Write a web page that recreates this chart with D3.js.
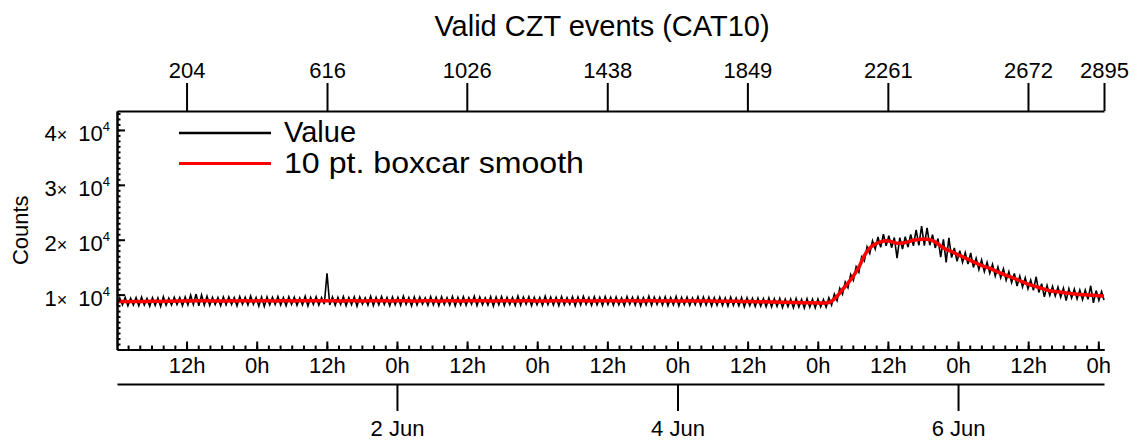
<!DOCTYPE html>
<html>
<head>
<meta charset="utf-8">
<script src="https://cdn.jsdelivr.net/npm/d3@7"></script>
<style>
body { margin: 0; background: #fff; }
svg { font-family: "Liberation Sans", Arial, sans-serif; background: #fff; }
.axis path, .axis line { stroke: #000; stroke-width: 2; }
.axis text { font-size: 22px; fill: #000; font-family: "Liberation Sans", Arial, sans-serif; }
</style>
</head>
<body>
<svg width="1135" height="440"></svg>
<script>

// sampling of the light curve: one bin every 210 s, starting 31 May 00:06 UT
var t0 = Date.UTC(2017, 4, 31, 0, 6, 0);
var cadence = 210;
var lastIndex = 2895;
var valueStep = 8;    // every 8th bin
var smoothStep = 16;  // smoothed curve, every 16th bin

var values = [
  8050, 9400, 8150, 9500, 7950, 9350, 8100, 9450, 8000, 9550, 8100, 9300, 7900, 9450, 8050, 9400, 7850, 9600, 8100, 9350,
  8100, 9500, 8200, 9450, 8000, 9550, 8150, 9900, 8200, 10100, 7950, 9950, 8100, 9700, 8050, 9500, 8200, 9450, 8000, 9550,
  8150, 9600, 8200, 9450, 7950, 9650, 8250, 9500, 8100, 9750, 8200, 9450, 7900, 9550, 7850, 9600, 8150, 9500, 8200, 9650,
  8100, 9450, 8000, 9600, 8200, 9550, 8050, 9400, 8150, 9700, 7950, 9500, 8200, 9600, 8100, 9450, 8250, 13900, 8100, 9550,
  8050, 9500, 8200, 9650, 8000, 9450, 8150, 9600, 7900, 9550, 8250, 9400, 8100, 9700, 8000, 9500, 8150, 9650, 8200, 9450,
  8000, 9550, 8150, 9500, 8050, 9700, 8200, 9450, 7950, 9600, 8100, 9550, 8250, 9400, 8050, 9650, 8150, 9500, 8000, 9600,
  8200, 9450, 8100, 9650, 7950, 9500, 8150, 9600, 8050, 9450, 8250, 9700, 8000, 9550, 8150, 9400, 8100, 9600, 7900, 9550,
  8150, 9650, 8000, 9500, 8200, 9450, 8050, 9750, 8100, 9550, 8250, 9600, 8000, 9500, 8150, 9450, 8050, 9700, 8200, 9550,
  8100, 9500, 8000, 9650, 8150, 9450, 8250, 9600, 7950, 9550, 8100, 9700, 8200, 9450, 8050, 9600, 8150, 9500, 8000, 9650,
  8200, 9500, 8050, 9550, 8150, 9400, 8000, 9650, 8250, 9500, 8100, 9600, 7950, 9450, 8150, 9700, 8050, 9550, 8200, 9500,
  8100, 9600, 8000, 9450, 8150, 9650, 7950, 9500, 8200, 9550, 8050, 9400, 8150, 9600, 8000, 9550, 8100, 9500, 7950, 9450,
  8050, 9500, 8000, 9400, 7900, 9550, 8050, 9350, 7950, 9450, 7800, 9400, 8000, 9300, 7850, 9350, 7900, 9250, 7800, 9400,
  7750, 9250, 7850, 9300, 7650, 9150, 7800, 9200, 7600, 9300, 7750, 9100, 7550, 9250, 7700, 9150, 7600, 9200, 7750, 9100,
  7730, 9440, 8100, 10100, 8900, 11150, 10050, 12300, 11250, 13650, 12600, 15100, 14100, 16900, 16150, 18700, 17500, 19800, 18300, 20500,
  18600, 21000, 18900, 20720, 18550, 20400, 16650, 20380, 18300, 20550, 18650, 20950, 18900, 21780, 18950, 22490, 18930, 22170, 19000, 20900,
  18500, 20220, 16850, 20050, 15850, 20350, 16750, 18500, 16050, 18020, 15900, 17630, 15550, 17600, 14950, 16620, 14550, 16300, 14200, 15900,
  13900, 15530, 13350, 15020, 13050, 14700, 12600, 14170, 12200, 13850, 11550, 13370, 11400, 13050, 11050, 12650, 10800, 13250, 10400, 12000,
  9600, 11650, 9850, 11520, 9750, 11350, 9550, 11170, 8900, 11090, 9380, 11020, 9220, 10830, 9090, 10810, 9140, 11610, 8480, 10740,
  8950, 10570, 9030
];

var smooth = [
  8730, 8740, 8720, 8750, 8760, 8740, 8770, 8780, 8760, 8790, 8800,
  8820, 8840, 8860, 8850, 8870, 8880, 8860, 8850, 8840, 8850,
  8860, 8850, 8870, 8860, 8850, 8870, 8880, 8860, 8850, 8860, 8870, 8850, 8860, 8870, 8880, 8860, 8870, 8880, 8870, 8860,
  8850, 8860, 8870, 8860, 8850, 8860, 8870, 8880, 8860, 8850, 8860, 8870, 8860, 8850, 8840, 8860, 8870, 8860, 8850, 8860,
  8870, 8860, 8850, 8860, 8870, 8880, 8870, 8860, 8850, 8860, 8870, 8860, 8850, 8860, 8870, 8860, 8850, 8840, 8850, 8860,
  8870, 8860, 8850, 8860, 8870, 8860, 8850, 8860, 8870, 8880, 8860, 8850, 8860, 8870, 8860, 8850, 8860, 8870, 8860, 8850,
  8860, 8850, 8840, 8850, 8860, 8850, 8840, 8830, 8820, 8810, 8800, 8790, 8780, 8770, 8750, 8740, 8720, 8700, 8680, 8660,
  8640, 8610, 8590, 8560, 8540, 8520, 8500, 8490, 8480,
  8480, 8800, 9700, 10900, 12100, 13400, 15000, 17100, 18500, 19200, 19600, 19800, 19650, 19350, 19400, 19600, 19900, 20050,
  20130, 20000, 19600, 18850, 18250, 17850, 17350, 16900, 16450, 15950, 15500, 15100, 14800, 14350, 13900, 13500, 13150,
  12750, 12300, 11900, 11600, 11300, 11000, 10700, 10550, 10450, 10300, 10180, 10070, 9990, 9940, 9880, 9800, 9730
];

var indexTicks = [204, 616, 1026, 1438, 1849, 2261, 2672, 2895];
var countTicks = [10000, 20000, 30000, 40000];
var dateTicks = [Date.UTC(2017, 5, 2), Date.UTC(2017, 5, 4), Date.UTC(2017, 5, 6)];
var seriesNames = ["Value", "10 pt. boxcar smooth"];
var seriesColors = ["#000000", "#ff0000"];

var svg = d3.select("svg");

var plotL = 117, plotR = 1104, plotT = 111, plotB = 349.5;

var xi = d3.scaleLinear()
    .domain([0, lastIndex])
    .range([plotL, plotR]);

var xt = d3.scaleUtc()
    .domain([new Date(t0), new Date(t0 + lastIndex * cadence * 1000)])
    .range([plotL, plotR]);

var y = d3.scaleLinear()
    .domain([0, 43450])
    .range([plotB, plotT]);

function toPoints(arr, step) {
  return arr.map(function(v, i) { return {index: Math.min(i * step, lastIndex), value: v}; });
}

var line = d3.line()
    .x(function(d) { return xi(d.index); })
    .y(function(d) { return y(d.value); });

// data
svg.append("path")
    .datum(toPoints(values, valueStep))
    .attr("fill", "none")
    .attr("stroke", seriesColors[0])
    .attr("stroke-width", 1.6)
    .attr("d", line);

svg.append("path")
    .datum(toPoints(smooth, smoothStep))
    .attr("fill", "none")
    .attr("stroke", seriesColors[1])
    .attr("stroke-width", 3.5)
    .attr("stroke-linejoin", "round")
    .attr("d", line.curve(d3.curveMonotoneX));

// top axis: bin number
svg.append("g")
    .attr("class", "axis")
    .attr("transform", "translate(0," + plotT + ")")
    .call(d3.axisTop(xi)
      .tickValues(indexTicks)
      .tickSize(28)
      .tickSizeOuter(0)
      .tickPadding(5)
      .tickFormat(d3.format("d")));

// left axis, minor then major
svg.append("g")
    .attr("class", "axis")
    .attr("transform", "translate(" + plotL + ",0)")
    .call(d3.axisLeft(y)
      .tickValues(d3.range(1000, 43001, 1000))
      .tickSize(-3.5)
      .tickSizeOuter(0)
      .tickFormat(""));

var yAxis = svg.append("g")
    .attr("class", "axis")
    .attr("transform", "translate(" + plotL + ",0)")
    .call(d3.axisLeft(y)
      .tickValues(countTicks)
      .tickSize(-8)
      .tickSizeOuter(0)
      .tickPadding(7));

yAxis.selectAll(".tick text").each(function(d) {
  var t = d3.select(this).text(null).attr("dy", "0.5em");
  t.append("tspan").text(d / 10000);
  t.append("tspan").attr("font-size", "18px").text("\u00d7");
  t.append("tspan").text("\u00a0");
  t.append("tspan").attr("dx", 5).text("10");
  t.append("tspan").attr("font-size", "13px").attr("dy", -10).text("4");
});

// bottom axis: hours
svg.append("g")
    .attr("class", "axis")
    .attr("transform", "translate(0," + plotB + ")")
    .call(d3.axisBottom(xt)
      .ticks(d3.utcHour.every(2))
      .tickSize(-4)
      .tickSizeOuter(0)
      .tickFormat(""));

svg.append("g")
    .attr("class", "axis")
    .attr("transform", "translate(0," + plotB + ")")
    .call(d3.axisBottom(xt)
      .ticks(d3.utcHour.every(12))
      .tickSize(-8)
      .tickSizeOuter(0)
      .tickPadding(7.5)
      .tickFormat(d3.utcFormat("%-Hh")));

// second bottom axis: dates
svg.append("g")
    .attr("class", "axis")
    .attr("transform", "translate(0,384)")
    .call(d3.axisBottom(xt)
      .tickValues(dateTicks.map(function(d) { return new Date(d); }))
      .tickSize(27)
      .tickSizeOuter(0)
      .tickPadding(9)
      .tickFormat(d3.utcFormat("%-d %b")));

// titles
svg.append("text")
    .attr("x", 602)
    .attr("y", 36)
    .attr("text-anchor", "middle")
    .attr("font-size", "29px")
    .text("Valid CZT events (CAT10)");

svg.append("text")
    .attr("transform", "translate(28," + ((plotT + plotB) / 2) + ") rotate(-90)")
    .attr("text-anchor", "middle")
    .attr("font-size", "22px")
    .text("Counts");

// legend
var legend = svg.append("g")
    .attr("class", "legend");

legend.selectAll("line")
  .data(seriesNames)
  .enter().append("line")
    .attr("x1", 179)
    .attr("x2", 271)
    .attr("y1", function(d, i) { return 133 + i * 30.5; })
    .attr("y2", function(d, i) { return 133 + i * 30.5; })
    .attr("stroke", function(d, i) { return seriesColors[i]; })
    .attr("stroke-width", function(d, i) { return i ? 3 : 2.5; });

legend.selectAll("text")
  .data(seriesNames)
  .enter().append("text")
    .attr("x", 284)
    .attr("y", function(d, i) { return 142 + i * 31; })
    .attr("font-size", "29px")
    .text(function(d) { return d; });

// the long label is set a little wider in the original
legend.selectAll("text").filter(function(d, i) { return i === 1; })
    .attr("textLength", 300)
    .attr("lengthAdjust", "spacingAndGlyphs");

</script>
</body>
</html>
